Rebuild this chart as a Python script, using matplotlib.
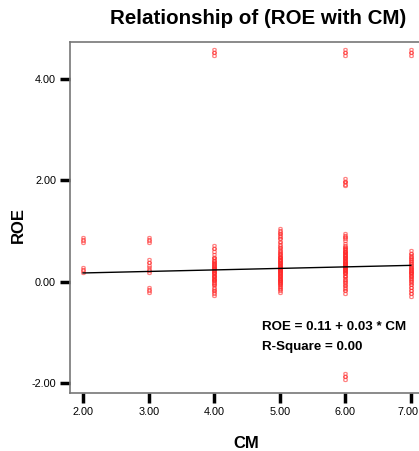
import matplotlib.pyplot as plt
import matplotlib.transforms as mtransforms
import numpy as np

plt.rcParams['font.family'] = ['Liberation Sans', 'DejaVu Sans']

# observed ROE values per CM score
roe_cm2 = [0.85, 0.80, 0.25, 0.20]
roe_cm3 = [0.85, 0.80, 0.40, 0.35, 0.25, 0.20, -0.15, -0.18]
roe_cm4 = [4.55, 4.50, 0.68, 0.62, 0.50, 0.45, 0.42, 0.38, 0.35, 0.32, 0.30, 0.28,
           0.25, 0.22, 0.20, 0.18, 0.15, 0.12, 0.10, 0.08, 0.05, 0.02, 0.0,
           -0.02, -0.10, -0.15, -0.20, -0.24]
roe_cm5 = [1.02, 0.98, 0.92, 0.88, 0.82, 0.75, 0.70, 0.65, 0.60, 0.56, 0.52, 0.50,
           0.47, 0.45, 0.42, 0.40, 0.38, 0.35, 0.33, 0.30, 0.28, 0.26, 0.24, 0.22,
           0.20, 0.18, 0.16, 0.14, 0.12, 0.10, 0.08, 0.06, 0.04, 0.02, 0.0,
           -0.03, -0.06, -0.10, -0.14, -0.18]
roe_cm6 = [4.55, 4.50, 2.00, 1.95, 1.92, 0.92, 0.88, 0.85, 0.72, 0.68, 0.65, 0.62,
           0.60, 0.57, 0.55, 0.52, 0.50, 0.48, 0.45, 0.43, 0.40, 0.38, 0.36, 0.34,
           0.32, 0.30, 0.28, 0.26, 0.24, 0.22, 0.20, 0.18, 0.15, 0.12, 0.08, 0.04,
           0.0, -0.05, -0.10, -0.15, -0.20, -1.85, -1.90]
roe_cm7 = [4.55, 4.50, 0.58, 0.52, 0.48, 0.44, 0.40, 0.36, 0.32, 0.28, 0.25, 0.22,
           0.20, 0.18, 0.15, 0.12, 0.10, 0.06, 0.02, -0.02, -0.08, -0.14, -0.20, -0.26]

cm_levels = [2, 3, 4, 5, 6, 7]
groups = [roe_cm2, roe_cm3, roe_cm4, roe_cm5, roe_cm6, roe_cm7]

intercept = 0.11
slope = 0.03

fig = plt.figure(figsize=(4.19, 4.51), dpi=100)
ax = fig.add_axes([70/419, 58/451, 352/419, 351/451])

for cm, vals in zip(cm_levels, groups):
    xs = np.full(len(vals), cm, dtype=float)
    ax.plot(xs, vals, linestyle='none', marker='$8$', markersize=5,
            color='#ff2a2a', alpha=0.5, markeredgewidth=0.3)

xl = np.array([2.0, 7.0])
ax.plot(xl, intercept + slope * xl, color='black', linewidth=1.0)

ax.set_xlim(1.8, 7.17)
ax.set_ylim(-2.2, 4.73)
ax.set_xticks([2, 3, 4, 5, 6, 7])
ax.set_xticklabels(['%.2f' % v for v in [2, 3, 4, 5, 6, 7]])
ax.set_yticks([-2, 0, 2, 4])
ax.set_yticklabels(['-2.00', '0.00', '2.00', '4.00'])
ax.tick_params(axis='both', direction='out', length=7, width=2.5, labelsize=7.8, pad=3)
for s in ax.spines.values():
    s.set_color('#777777')
    s.set_linewidth(1.2)

# nudge the last x label so it stays inside the image
last = ax.get_xticklabels()[-1]
last.set_transform(last.get_transform() + mtransforms.ScaledTranslation(-3/100, 0, fig.dpi_scale_trans))

ax.set_xlabel('CM', fontsize=12, fontweight='bold', labelpad=14)
ax.set_ylabel('ROE', fontsize=12, fontweight='bold')
ax.yaxis.set_label_coords(-44/352, 0.48)

fig.text(0.615, 0.958, 'Relationship of (ROE with CM)', ha='center', va='center',
         fontsize=14.8, fontweight='bold')

ax.text(0.545, 0.188, 'ROE = %.2f + %.2f * CM' % (intercept, slope), transform=ax.transAxes,
        fontsize=9.6, fontweight='bold', va='center')
ax.text(0.545, 0.131, 'R-Square = 0.00', transform=ax.transAxes,
        fontsize=9.6, fontweight='bold', va='center')

fig.savefig('out.png', dpi=100)
